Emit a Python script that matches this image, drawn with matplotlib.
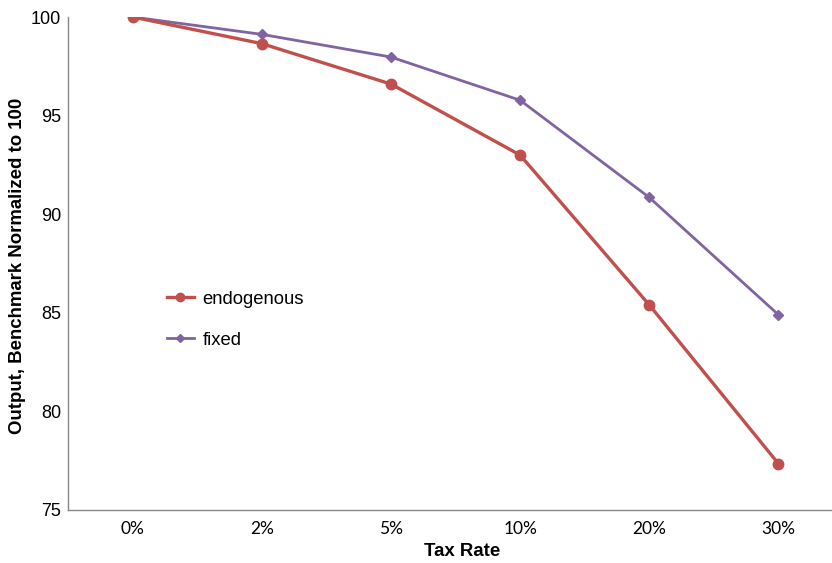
import matplotlib
matplotlib.use('Agg')
import matplotlib.pyplot as plt

tax_rates = ['0%', '2%', '5%', '10%', '20%', '30%']
endogenous = [100, 98.65, 96.6, 93.0, 85.4, 77.35]
fixed = [100, 99.12, 97.97, 95.78, 90.85, 84.9]

W, H = 832, 563
fig = plt.figure(figsize=(W / 100, H / 100), dpi=100)
# x axis extends past the right edge of the picture, as in the original
ax = fig.add_axes([68 / W, (H - 510) / H, 775 / W, 493 / H])

x = list(range(len(tax_rates)))
ax.plot(x, fixed, color='#8064A2', lw=2.0, marker='D', ms=5.5,
        label='fixed', zorder=2)
ax.plot(x, endogenous, color='#C0504D', lw=2.4, marker='o', ms=7.5,
        label='endogenous', zorder=3)

ax.set_xlim(-0.5, 5.5)
ax.set_ylim(75, 100)
ax.set_yticks([75, 80, 85, 90, 95, 100])
ax.set_xticks(x)
ax.set_xticklabels(tax_rates, family='Lato', fontsize=12.5)
for lab in ax.get_yticklabels():
    lab.set_family('Liberation Sans')
    lab.set_fontsize(13)
ax.tick_params(length=0, pad=5)
ax.tick_params(axis='x', pad=8)

for s in ['top', 'right']:
    ax.spines[s].set_visible(False)
for s in ['left', 'bottom']:
    ax.spines[s].set_color('#888888')
    ax.spines[s].set_linewidth(1.0)

fig.text(462 / W, 1 - 551 / H, 'Tax Rate', ha='center', va='center',
         family='Liberation Sans', fontweight='bold', fontsize=13.4)
fig.text(18 / W, 1 - 266 / H, 'Output, Benchmark Normalized to 100',
         ha='center', va='center', rotation=90,
         family='Liberation Sans', fontweight='bold', fontsize=13.4)

handles, labels = ax.get_legend_handles_labels()
leg = ax.legend(handles[::-1], labels[::-1], loc='upper left',
                bbox_to_anchor=(150 / W, 1 - 274 / H),
                bbox_transform=fig.transFigure, frameon=False,
                prop={'family': 'Liberation Sans', 'size': 13.3},
                handlelength=1.5, handletextpad=0.45, labelspacing=1.3,
                markerscale=0.8)

fig.savefig('out.png', dpi=100)
